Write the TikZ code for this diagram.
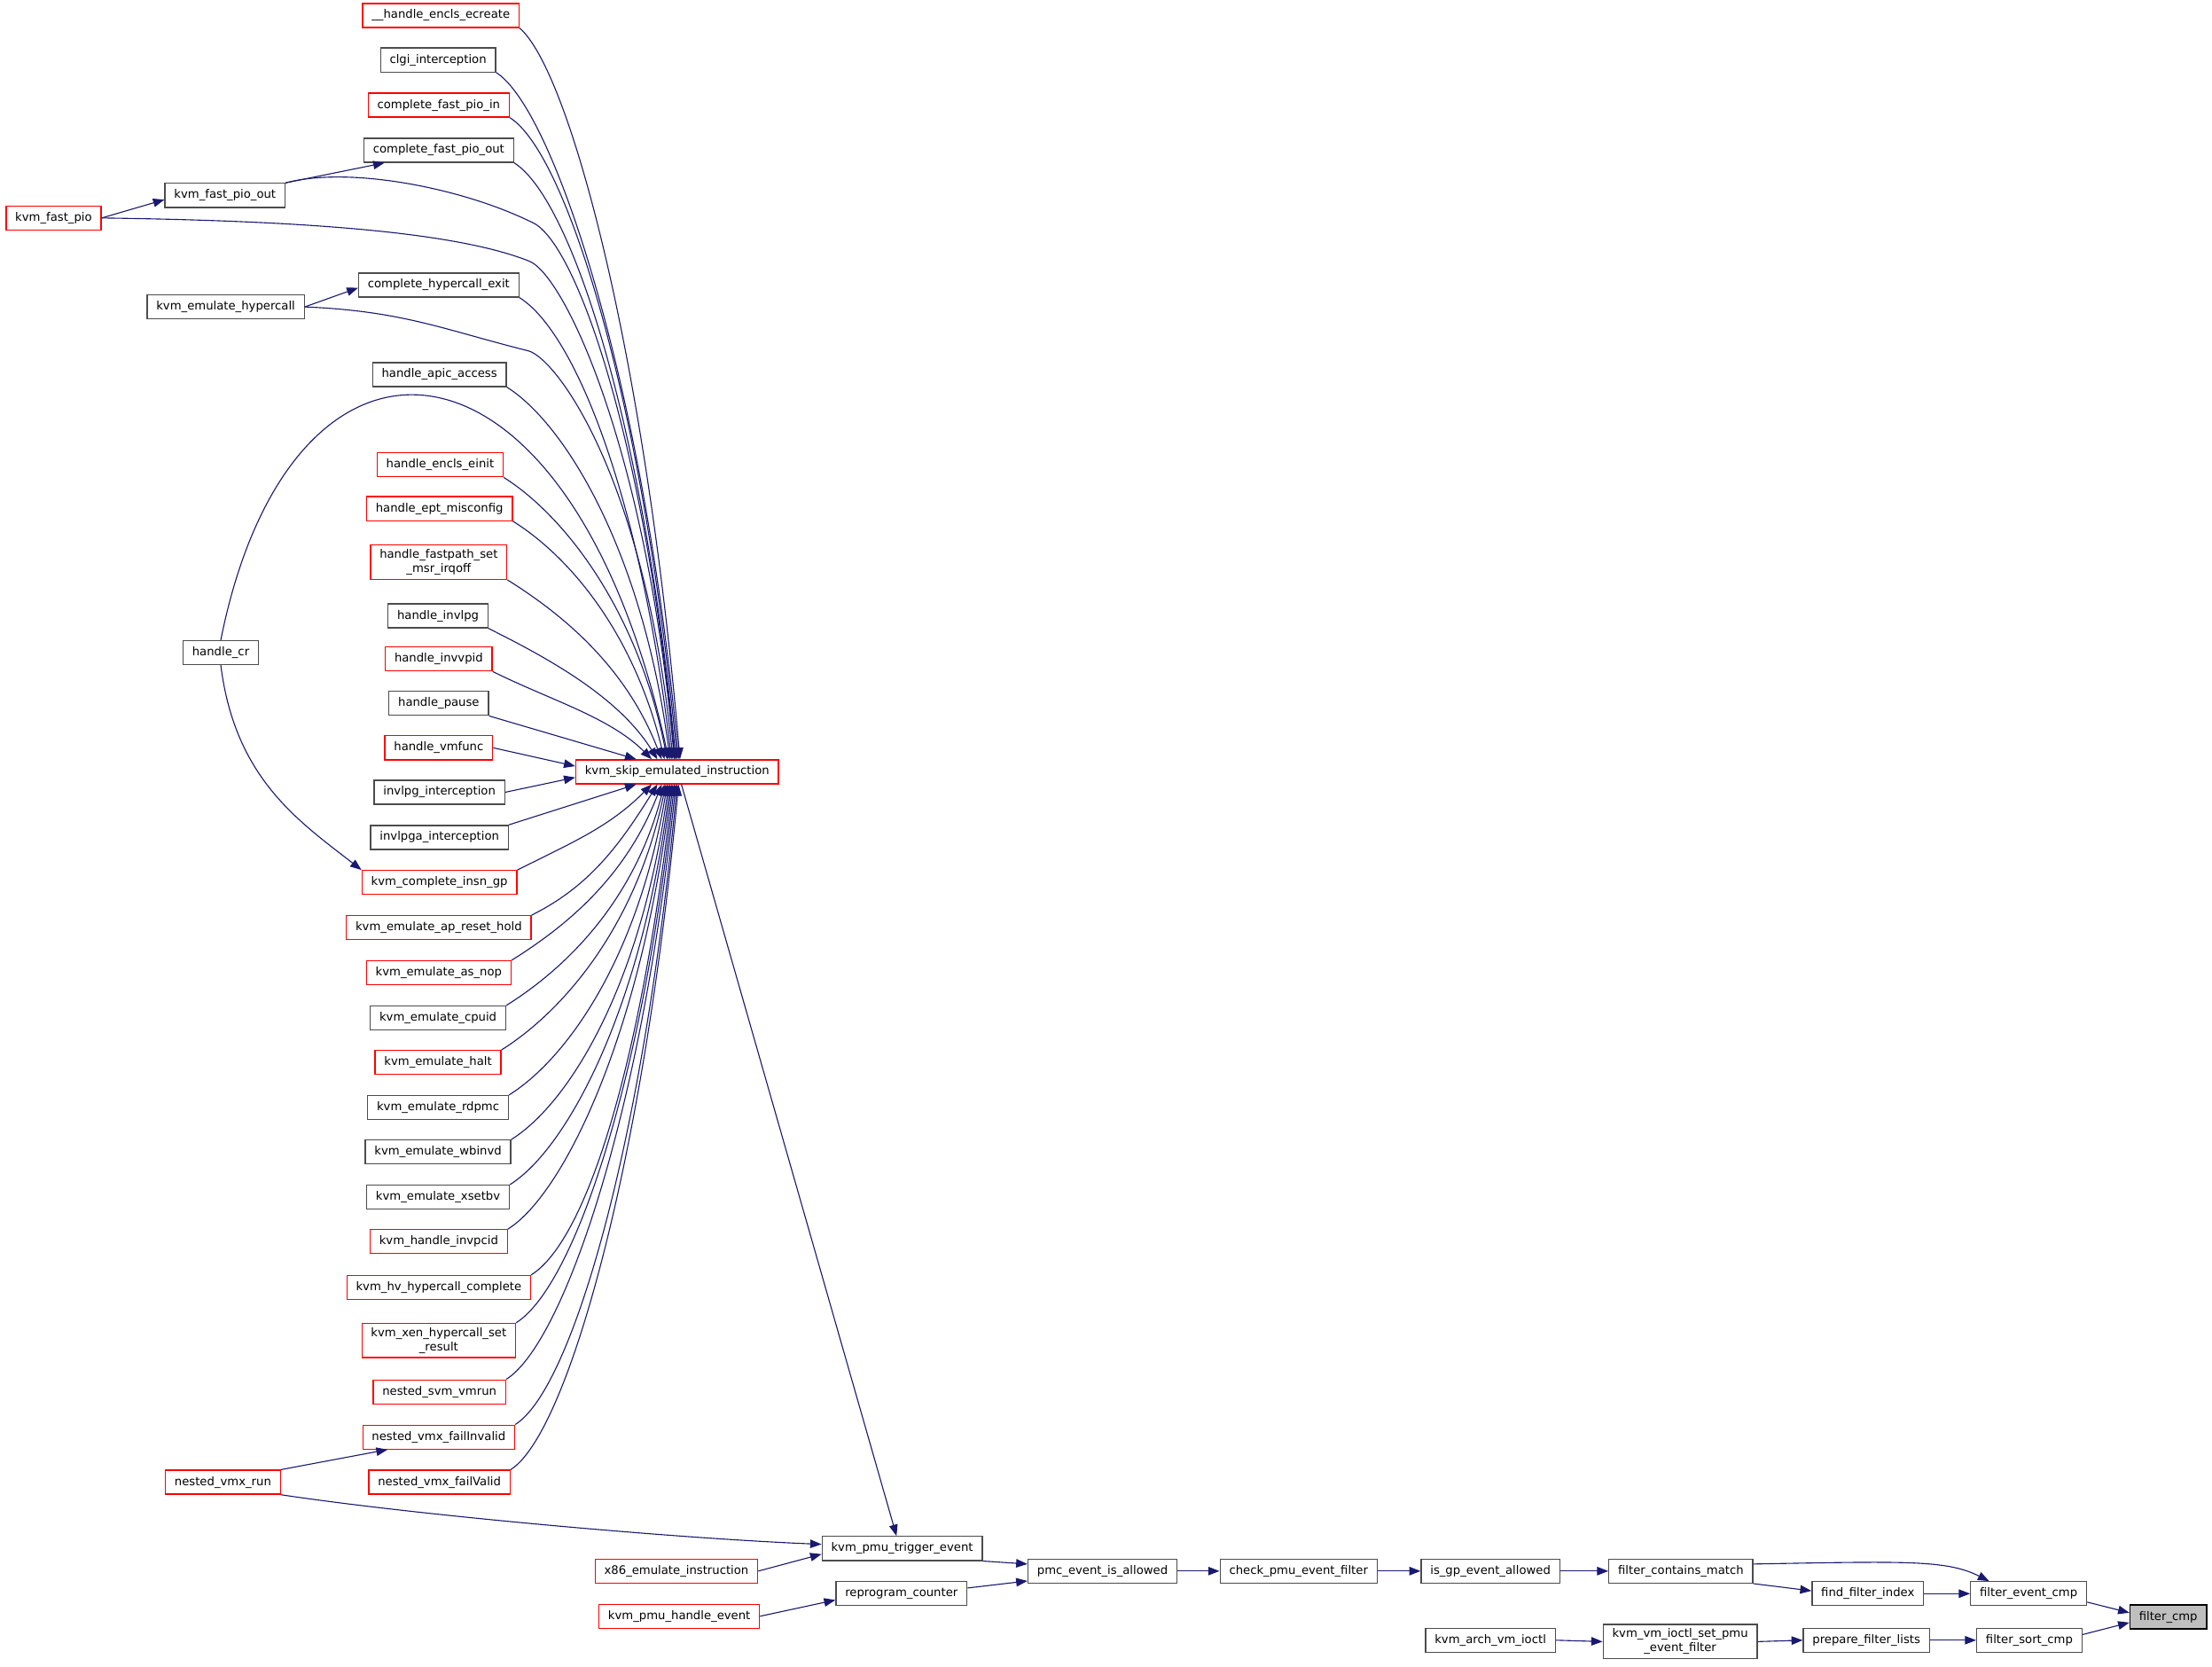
\documentclass[tikz,border=0pt]{standalone}
\usepackage{fontspec}
\setmainfont{DejaVu Sans}
\usetikzlibrary{arrows.meta}
\definecolor{edgeblue}{HTML}{191970}
\tikzstyle{func} = [draw=black!70, fill=white, line width=0.8pt, inner xsep=6.5pt, inner ysep=3pt, minimum height=17pt, align=center, font=\fontsize{8.3}{10}\selectfont]
\tikzstyle{funcred} = [func, draw=red]
\tikzstyle{funcroot} = [func, draw=black, fill=black!25]
\tikzstyle{callarrow} = [draw=edgeblue, line width=0.7pt, -{Triangle[length=8pt,width=6pt]}]

\begin{document}
\begin{tikzpicture}[x=1pt, y=-1pt]
        \useasboundingbox (0,0) rectangle (1568,1181);

        % callers above kvm_skip_emulated_instruction
        \node at (312.5,11) [funcred] (ecreate) {\_\_handle\_encls\_ecreate};
        \node at (310.5,42.5) [func] (clgi) {clgi\_interception};
        \node at (311,74.5) [funcred] (cfpin) {complete\_fast\_pio\_in};
        \node at (311,106.5) [func] (cfpout) {complete\_fast\_pio\_out};
        \node at (159.5,138.5) [func] (fpout) {kvm\_fast\_pio\_out};
        \node at (38,154.5) [funcred] (fpio) {kvm\_fast\_pio};
        \node at (311,202) [func] (hcexit) {complete\_hypercall\_exit};
        \node at (160,217.5) [func] (emuhc) {kvm\_emulate\_hypercall};
        \node at (311.5,265.5) [func] (apic) {handle\_apic\_access};
        \node at (156.5,462.5) [func] (hcr) {handle\_cr};
        \node at (312,329.5) [funcred] (einit) {handle\_encls\_einit};
        \node at (311.5,360.5) [funcred] (ept) {handle\_ept\_misconfig};
        \node at (311,398.5) [funcred] (fastpath) {handle\_fastpath\_set\\\_msr\_irqoff};
        \node at (310.5,436.5) [func] (invlpg) {handle\_invlpg};
        \node at (311,467) [funcred] (invvpid) {handle\_invvpid};
        \node at (311,498.5) [func] (pause) {handle\_pause};
        \node at (311,530) [funcred] (vmfunc) {handle\_vmfunc};
        \node at (311.5,561.5) [func] (invlpgi) {invlpg\_interception};

        % callers below kvm_skip_emulated_instruction
        \node at (311.5,593.5) [func] (invlpgai) {invlpga\_interception};
        \node at (311.5,625.5) [funcred] (insngp) {kvm\_complete\_insn\_gp};
        \node at (311,657.5) [funcred] (apreset) {kvm\_emulate\_ap\_reset\_hold};
        \node at (311,689.5) [funcred] (asnop) {kvm\_emulate\_as\_nop};
        \node at (310.5,721.5) [func] (cpuid) {kvm\_emulate\_cpuid};
        \node at (310.5,753) [funcred] (halt) {kvm\_emulate\_halt};
        \node at (310.5,785) [func] (rdpmc) {kvm\_emulate\_rdpmc};
        \node at (310.5,816.5) [func] (wbinvd) {kvm\_emulate\_wbinvd};
        \node at (310.5,848.5) [func] (xsetbv) {kvm\_emulate\_xsetbv};
        \node at (311,880) [funcred] (invpcid) {kvm\_handle\_invpcid};
        \node at (311,912.5) [funcred] (hvhc) {kvm\_hv\_hypercall\_complete};
        \node at (311,950) [funcred] (xenhc) {kvm\_xen\_hypercall\_set\\\_result};
        \node at (311.5,986.5) [funcred] (svmrun) {nested\_svm\_vmrun};
        \node at (311,1018.5) [funcred] (failinv) {nested\_vmx\_failInvalid};
        \node at (158,1050.5) [funcred] (nvmxrun) {nested\_vmx\_run};
        \node at (311.5,1050.5) [funcred] (failval) {nested\_vmx\_failValid};

        % the pmu chain
        \node at (480,547) [funcred] (skip) {kvm\_skip\_emulated\_instruction};
        \node at (639.5,1097.5) [func] (pmu) {kvm\_pmu\_trigger\_event};
        \node at (479.5,1113.5) [funcred] (x86) {x86\_emulate\_instruction};
        \node at (481.5,1145.5) [funcred] (kph) {kvm\_pmu\_handle\_event};
        \node at (639,1129.5) [func] (rc) {reprogram\_counter};
        \node at (781.5,1113.5) [func] (pmc) {pmc\_event\_is\_allowed};
        \node at (920.5,1113.5) [func] (check) {check\_pmu\_event\_filter};
        \node at (1056.5,1113.5) [func] (isgp) {is\_gp\_event\_allowed};
        \node at (1191.5,1113.5) [func] (fcm) {filter\_contains\_match};
        \node at (1324,1129.5) [func] (ffi) {find\_filter\_index};
        \node at (1438,1129.5) [func] (fec) {filter\_event\_cmp};
        \node at (1537,1146) [funcroot] (fcmp) {filter\_cmp};

        % the ioctl chain
        \node at (1056.5,1162.5) [func] (kav) {kvm\_arch\_vm\_ioctl};
        \node at (1191,1163.5) [func] (kvisf) {kvm\_vm\_ioctl\_set\_pmu\\\_event\_filter};
        \node at (1323,1162.5) [func] (pfl) {prepare\_filter\_lists};
        \node at (1438.5,1162.5) [func] (fsc) {filter\_sort\_cmp};

        % left side calls
        \draw [callarrow] (fpio.east) -- ([yshift=-3pt]fpout.west);
        \draw [callarrow] (fpout.north east) -- ([xshift=15pt]cfpout.south west);
        \draw [callarrow] (emuhc.east) -- ([yshift=-2pt]hcexit.west);
        \draw [callarrow] (hcr.south) .. controls +(10,80) and +(-45,-35) .. (insngp.north west);
        \draw [callarrow] (nvmxrun.north east) -- ([xshift=18pt]failinv.south west);

        % into kvm_skip_emulated_instruction from above
        \draw [callarrow] (ecreate.south east) .. controls +(35,30) and +(-25,-290) .. ([xshift=2pt]skip.north);
        \draw [callarrow] (clgi.south east) .. controls +(40,25) and +(-25,-270) .. ([xshift=1pt]skip.north);
        \draw [callarrow] (cfpin.south east) .. controls +(40,25) and +(-24,-255) .. (skip.north);
        \draw [callarrow] (cfpout.south east) .. controls +(40,25) and +(-23,-240) .. ([xshift=-1pt]skip.north);
        \draw [callarrow] (fpout.north east) .. controls +(45,-12) and +(-50,-25) .. ([shift={(10,-35)}]hcexit.north east) .. controls +(30,15) and +(-22,-230) .. ([xshift=-1.5pt]skip.north);
        \draw [callarrow] (fpio.east) .. controls +(150,2) and +(-50,-20) .. ([shift={(7,-8)}]hcexit.north east) .. controls +(25,10) and +(-20,-220) .. ([xshift=-2pt]skip.north);
        \draw [callarrow] (hcexit.south east) .. controls +(40,25) and +(-22,-185) .. ([xshift=-4pt]skip.north);
        \draw [callarrow] (emuhc.east) .. controls +(70,3) and +(-60,-15) .. ([shift={(15,-8)}]apic.north east) .. controls +(20,5) and +(-20,-200) .. ([xshift=-3pt]skip.north);
        \draw [callarrow] (apic.south east) .. controls +(40,25) and +(-20,-150) .. ([xshift=-5pt]skip.north);
        \draw [callarrow] (hcr.north) .. controls +(50,-250) and +(-70,-320) .. ([xshift=-6pt]skip.north);
        \draw [callarrow] (einit.south east) .. controls +(40,25) and +(-22,-110) .. ([xshift=-7pt]skip.north);
        \draw [callarrow] (ept.south east) .. controls +(40,25) and +(-22,-90) .. ([xshift=-9pt]skip.north);
        \draw [callarrow] (fastpath.south east) .. controls +(40,25) and +(-25,-65) .. ([xshift=-11pt]skip.north);
        \draw [callarrow] (invlpg.south east) .. controls +(40,20) and +(-28,-45) .. ([xshift=-14pt]skip.north);
        \draw [callarrow] (invvpid.south east) .. controls +(40,20) and +(-30,-30) .. ([xshift=-18pt]skip.north);
        \draw [callarrow] (pause.south east) -- ([xshift=-29pt]skip.north);
        \draw [callarrow] (vmfunc.east) -- ([yshift=4pt]skip.west);
        \draw [callarrow] (invlpgi.east) -- ([yshift=-4pt]skip.west);

        % into kvm_skip_emulated_instruction from below
        \draw [callarrow] (invlpgai.north east) -- ([xshift=-29pt]skip.south);
        \draw [callarrow] (insngp.north east) .. controls +(40,-20) and +(-30,30) .. ([xshift=-18pt]skip.south);
        \draw [callarrow] (apreset.north east) .. controls +(40,-20) and +(-28,45) .. ([xshift=-14pt]skip.south);
        \draw [callarrow] (asnop.north east) .. controls +(40,-25) and +(-25,65) .. ([xshift=-11pt]skip.south);
        \draw [callarrow] (cpuid.north east) .. controls +(40,-25) and +(-22,85) .. ([xshift=-9pt]skip.south);
        \draw [callarrow] (halt.north east) .. controls +(40,-25) and +(-22,105) .. ([xshift=-8pt]skip.south);
        \draw [callarrow] (rdpmc.north east) .. controls +(40,-25) and +(-21,125) .. ([xshift=-7pt]skip.south);
        \draw [callarrow] (wbinvd.north east) .. controls +(40,-25) and +(-20,145) .. ([xshift=-6pt]skip.south);
        \draw [callarrow] (xsetbv.north east) .. controls +(40,-25) and +(-20,160) .. ([xshift=-5pt]skip.south);
        \draw [callarrow] (invpcid.north east) .. controls +(40,-25) and +(-21,175) .. ([xshift=-4pt]skip.south);
        \draw [callarrow] (hvhc.north east) .. controls +(40,-25) and +(-22,195) .. ([xshift=-3pt]skip.south);
        \draw [callarrow] (xenhc.north east) .. controls +(40,-25) and +(-23,215) .. ([xshift=-2pt]skip.south);
        \draw [callarrow] (svmrun.north east) .. controls +(40,-25) and +(-24,235) .. ([xshift=-1pt]skip.south);
        \draw [callarrow] (failinv.north east) .. controls +(40,-25) and +(-24,255) .. (skip.south);
        \draw [callarrow] (failval.north east) .. controls +(40,-25) and +(-25,270) .. ([xshift=1pt]skip.south);

        % down to filter_cmp
        \draw [callarrow] ([xshift=3pt]skip.south) -- ([xshift=-4pt]pmu.north);
        \draw [callarrow] (nvmxrun.south east) .. controls +(100,15) and +(-100,-4) .. ([yshift=3pt]pmu.west);
        \draw [callarrow] (x86.east) -- ([yshift=-4pt]pmu.west);
        \draw [callarrow] (kph.east) -- ([yshift=-4.5pt]rc.west);
        \draw [callarrow] (pmu.south east) -- ([yshift=5pt]pmc.west);
        \draw [callarrow] ([yshift=4pt]rc.east) -- ([yshift=-7pt]pmc.west);
        \draw [callarrow] (pmc.east) -- (check.west);
        \draw [callarrow] (check.east) -- (isgp.west);
        \draw [callarrow] (isgp.east) -- (fcm.west);
        \draw [callarrow] (fcm.south east) -- ([yshift=2pt]ffi.west);
        \draw [callarrow] ([yshift=5pt]fcm.east) .. controls +(110,-2) and +(-30,-15) .. ([xshift=-28pt]fec.north);
        \draw [callarrow] (ffi.east) -- (fec.west);
        \draw [callarrow] ([yshift=-6pt]fec.east) -- ([yshift=3pt]fcmp.west);
        \draw [callarrow] (kav.east) -- (kvisf.west);
        \draw [callarrow] (kvisf.east) -- (pfl.west);
        \draw [callarrow] (pfl.east) -- (fsc.west);
        \draw [callarrow] ([yshift=4pt]fsc.east) -- ([yshift=-4pt]fcmp.west);

\end{tikzpicture}
\end{document}
